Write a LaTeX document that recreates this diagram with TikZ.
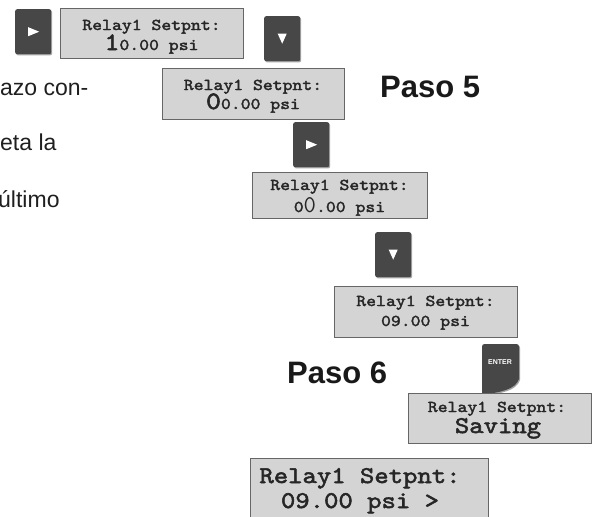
\documentclass[tikz,border=0pt]{standalone}
\usepackage{fontspec}
\setmainfont{Liberation Sans}
\newfontfamily\lcdfont{lmmono10-regular}[Extension=.otf, FakeBold=2.2, FakeStretch=1.14]
\usetikzlibrary{calc,shadows}

\tikzset{
  lcd/.style={draw=black!60, line width=1.4pt, fill=black!17, anchor=north west, inner sep=0pt},
  lcdtext/.style={font=\lcdfont\fontsize{16.5}{18}\selectfont, text=black!85, anchor=base, inner sep=0pt},
  bigtext/.style={font=\lcdfont\fontsize{24}{26}\selectfont, text=black!85, anchor=base, inner sep=0pt},
  key/.style={fill=black!72, rounded corners=2pt, anchor=north west, inner sep=0pt,
    minimum width=36pt, minimum height=45pt,
    drop shadow={shadow xshift=1pt, shadow yshift=-1.2pt, fill=black!35, opacity=1}},
  tri/.style={fill=white},
  paso/.style={font=\bfseries\fontsize{31}{36}\selectfont, text=black!90, anchor=base west, inner sep=0pt},
  body/.style={font=\fontsize{23}{27}\selectfont, text=black!88, anchor=base west, inner sep=0pt},
}

\begin{document}
\begin{tikzpicture}[x=1pt, y=-1pt]
    \useasboundingbox (0,0) rectangle (595,517);

    % text at the left, cut by the page
    \node[body] (txa) at (0,95) {azo con-};
    \node[body] (txb) at (0,150) {eta la};
    \node[body] (txc) at (-2,207) {último};

    % first row
    \node[key] (k1) at (15,9) {};
    \fill[tri] ($(k1)+(-5,-4.5)$) -- ($(k1)+(6,0)$) -- ($(k1)+(-5,4.5)$) -- cycle;
    \node[lcd, minimum width=183pt, minimum height=50pt] (lcd1) at (60,8) {};
    \node[lcdtext] (l1a) at (151.5,30) {Relay1 Setpnt:};
    \node[lcdtext] (l1b) at (151.5,50) {{\fontsize{25}{26}\selectfont 1}0.00 psi};
    \node[key] (k2) at (264,16) {};
    \fill[tri] ($(k2)+(-4.5,-5)$) -- ($(k2)+(4.5,-5)$) -- ($(k2)+(0,5)$) -- cycle;

    % Paso 5
    \node[lcd, minimum width=182pt, minimum height=51pt] (lcd2) at (162,68) {};
    \node[lcdtext] (l2a) at (253,90) {Relay1 Setpnt:};
    \node[lcdtext] (l2b) at (253,109) {{\fontsize{25}{26}\selectfont 0}0.00 psi};
    \node[paso] (p5) at (380,97) {Paso 5};

    \node[key] (k3) at (293,122) {};
    \fill[tri] ($(k3)+(-5,-4.5)$) -- ($(k3)+(6,0)$) -- ($(k3)+(-5,4.5)$) -- cycle;
    \node[lcd, minimum width=175pt, minimum height=46pt] (lcd3) at (252,172) {};
    \node[lcdtext] (l3a) at (339.5,190) {Relay1 Setpnt:};
    \node[lcdtext] (l3b) at (339.5,212) {0{\ttfamily\fontsize{24}{26}\selectfont 0}.00 psi};

    \node[key] (k4) at (375,232) {};
    \fill[tri] ($(k4)+(-4.5,-5)$) -- ($(k4)+(4.5,-5)$) -- ($(k4)+(0,5)$) -- cycle;
    \node[lcd, minimum width=183pt, minimum height=51pt] (lcd4) at (334,286) {};
    \node[lcdtext] (l4a) at (425.5,306) {Relay1 Setpnt:};
    \node[lcdtext] (l4b) at (425.5,326) {09.00 psi};

    % Paso 6
    \node[paso] (p6) at (287,383) {Paso 6};
    \fill[black!35, xshift=1pt, yshift=-1.2pt] (482,395) [rounded corners=2.5pt] -- (482,344) -- (519,344) [sharp corners] -- (519,379)
        .. controls (515,390) and (500,392) .. (482,395) -- cycle;
    \fill[black!72] (482,395) [rounded corners=2.5pt] -- (482,344) -- (519,344) [sharp corners] -- (519,379)
        .. controls (515,390) and (500,392) .. (482,395) -- cycle;
    \node[font=\bfseries\fontsize{7}{8}\selectfont, text=white, inner sep=0pt] (ent) at (500,362.5) {ENTER};
    \node[lcd, minimum width=183pt, minimum height=50pt] (lcd5) at (408,393) {};
    \node[lcdtext] (l5a) at (497,412) {Relay1 Setpnt:};
    \node[bigtext] (l5b) at (498,433) {Saving};

    \node[lcd, minimum width=238pt, minimum height=75pt] (lcd6) at (250,458) {};
    \node[bigtext] (l6a) at (360,483) {Relay1 Setpnt:};
    \node[bigtext] (l6b) at (360,508) {09.00 psi >};
\end{tikzpicture}
\end{document}
